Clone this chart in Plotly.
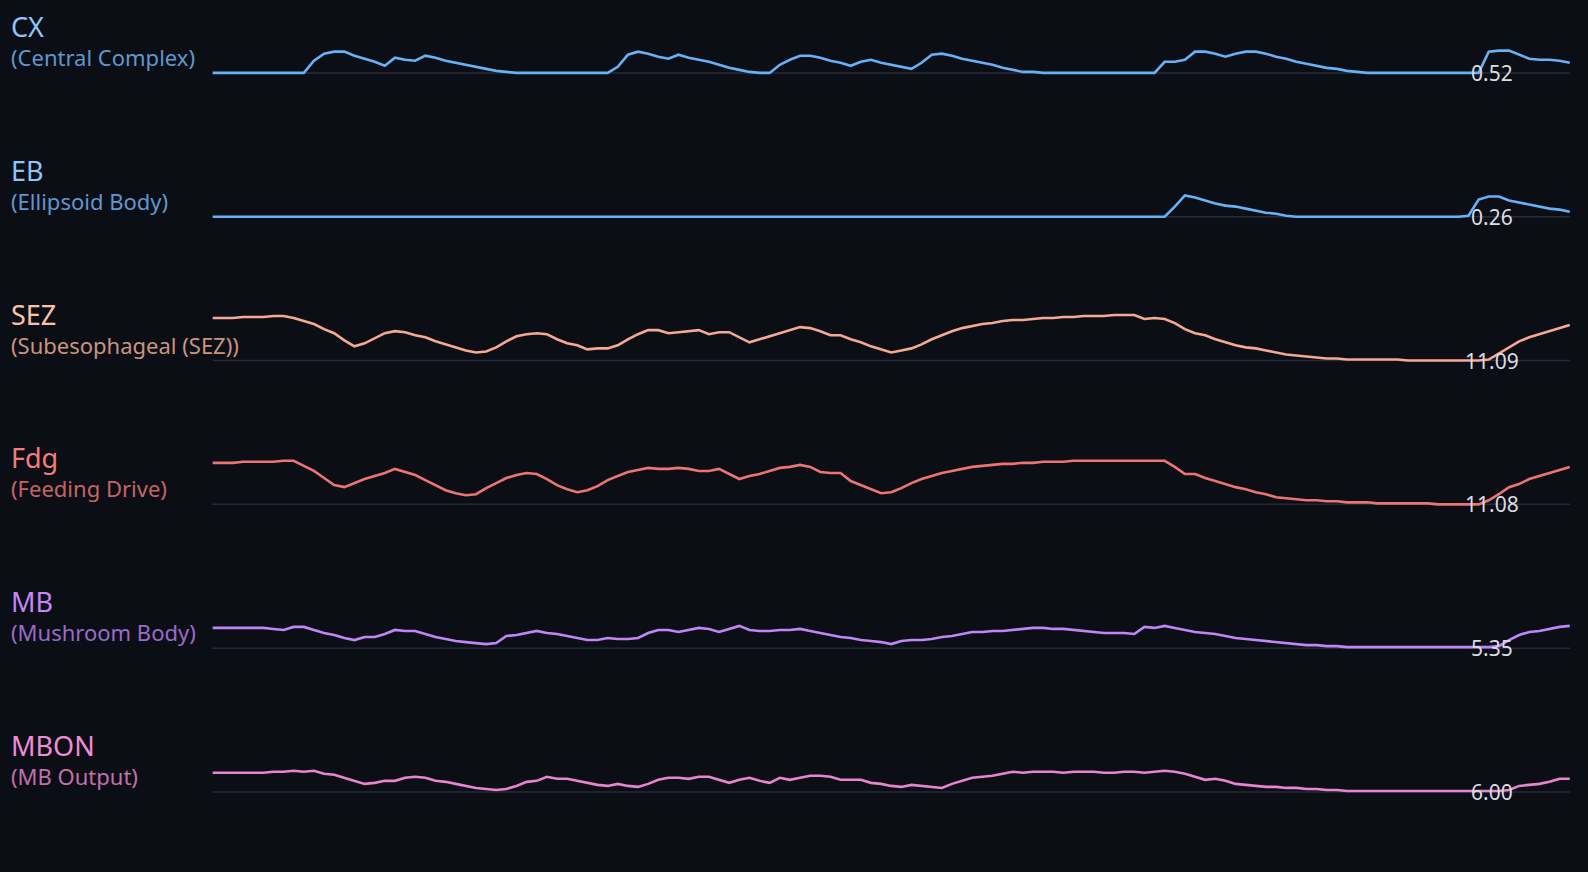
import plotly.graph_objects as go

# ---- data (activity traces, one value per time step) ----
time_steps = list(range(135))

region_names = ["CX", "EB", "SEZ", "Fdg", "MB", "MBON"]
region_descs = ["(Central Complex)", "(Ellipsoid Body)", "(Subesophageal (SEZ))",
                "(Feeding Drive)", "(Mushroom Body)", "(MB Output)"]
value_labels = ["0.52", "0.26", "11.09", "11.08", "5.35", "6.00"]

cx = [0, 0, 0, 0, 0, 0, 0, 0, 0, 0,
      12, 19, 21, 21, 17, 14, 11, 7, 15, 13,
      12, 17, 15, 12, 10, 8, 6, 4, 2, 1,
      0, 0, 0, 0, 0, 0, 0, 0, 0, 0,
      6, 18, 21, 19, 16, 14, 18, 15, 13, 11,
      8, 5, 3, 1, 0, 0, 8, 13, 17, 17,
      15, 12, 10, 7, 11, 13, 10, 8, 6, 4,
      10, 18, 19, 17, 14, 12, 10, 8, 5, 3,
      1, 1, 0, 0, 0, 0, 0, 0, 0, 0,
      0, 0, 0, 0, 11, 11, 13, 21, 21, 19,
      16, 19, 21, 21, 19, 16, 14, 11, 9, 7,
      5, 4, 2, 1, 0, 0, 0, 0, 0, 0,
      0, 0, 0, 0, 0, 0, 21, 22, 22, 18,
      14, 13, 13, 12, 10]

eb = [0, 0, 0, 0, 0, 0, 0, 0, 0, 0,
      0, 0, 0, 0, 0, 0, 0, 0, 0, 0,
      0, 0, 0, 0, 0, 0, 0, 0, 0, 0,
      0, 0, 0, 0, 0, 0, 0, 0, 0, 0,
      0, 0, 0, 0, 0, 0, 0, 0, 0, 0,
      0, 0, 0, 0, 0, 0, 0, 0, 0, 0,
      0, 0, 0, 0, 0, 0, 0, 0, 0, 0,
      0, 0, 0, 0, 0, 0, 0, 0, 0, 0,
      0, 0, 0, 0, 0, 0, 0, 0, 0, 0,
      0, 0, 0, 0, 0, 10, 21, 19, 16, 13,
      11, 10, 8, 6, 4, 3, 1, 0, 0, 0,
      0, 0, 0, 0, 0, 0, 0, 0, 0, 0,
      0, 0, 0, 0, 1, 17, 20, 20, 16, 14,
      12, 10, 8, 7, 5]

sez = [42, 42, 42, 43, 43, 43, 44, 44, 42, 39,
       36, 31, 27, 20, 14, 17, 22, 27, 29, 28,
       25, 23, 19, 16, 13, 10, 8, 9, 13, 19,
       24, 26, 27, 26, 21, 17, 15, 11, 12, 12,
       15, 21, 26, 30, 30, 27, 28, 29, 30, 26,
       28, 28, 23, 18, 21, 24, 27, 30, 33, 32,
       29, 25, 25, 21, 18, 14, 11, 8, 10, 12,
       16, 21, 25, 29, 32, 34, 36, 37, 39, 40,
       40, 41, 42, 42, 43, 43, 44, 44, 44, 45,
       45, 45, 41, 42, 41, 37, 31, 27, 25, 21,
       18, 15, 13, 12, 10, 8, 6, 5, 4, 3,
       2, 2, 1, 1, 1, 1, 1, 1, 0, 0,
       0, 0, 0, 0, 0, 0, 1, 7, 13, 19,
       23, 26, 29, 32, 35]

fdg = [41, 41, 41, 42, 42, 42, 42, 43, 43, 38,
       33, 26, 19, 17, 21, 25, 28, 31, 35, 32,
       29, 24, 19, 14, 11, 9, 10, 16, 21, 26,
       29, 31, 30, 25, 19, 15, 12, 14, 18, 24,
       28, 32, 34, 36, 35, 35, 36, 35, 33, 33,
       35, 30, 25, 28, 30, 33, 36, 37, 39, 37,
       32, 31, 31, 23, 19, 15, 11, 12, 16, 21,
       25, 28, 31, 33, 35, 37, 38, 39, 40, 40,
       41, 41, 42, 42, 42, 43, 43, 43, 43, 43,
       43, 43, 43, 43, 43, 37, 30, 30, 26, 23,
       20, 17, 15, 12, 10, 7, 6, 5, 4, 4,
       3, 3, 2, 2, 2, 1, 1, 1, 1, 1,
       1, 0, 0, 0, 0, 0, 4, 10, 17, 20,
       25, 28, 31, 34, 37]

mb = [20, 20, 20, 20, 20, 20, 19, 18, 21, 21,
      18, 15, 13, 10, 8, 11, 11, 14, 18, 17,
      17, 14, 11, 9, 7, 6, 5, 4, 5, 12,
      13, 15, 17, 15, 14, 12, 10, 8, 8, 10,
      9, 9, 10, 15, 18, 18, 16, 18, 20, 19,
      16, 19, 22, 18, 17, 17, 18, 18, 19, 17,
      15, 13, 11, 10, 8, 7, 6, 4, 7, 8,
      8, 9, 11, 12, 14, 16, 16, 17, 17, 18,
      19, 20, 20, 19, 19, 18, 17, 16, 15, 15,
      15, 14, 21, 20, 22, 20, 18, 16, 15, 14,
      12, 10, 9, 8, 7, 6, 5, 4, 3, 3,
      2, 2, 1, 1, 1, 1, 1, 1, 1, 1,
      1, 1, 1, 1, 1, 1, 1, 2, 8, 13,
      16, 17, 19, 21, 22]

mbon = [19, 19, 19, 19, 19, 19, 20, 20, 21, 20,
        21, 18, 17, 14, 11, 8, 9, 11, 11, 14,
        15, 14, 11, 10, 8, 6, 4, 3, 2, 3,
        6, 10, 11, 15, 13, 13, 11, 9, 7, 6,
        8, 6, 5, 8, 12, 14, 14, 13, 15, 15,
        12, 9, 12, 14, 11, 9, 14, 12, 14, 16,
        16, 15, 12, 12, 12, 9, 8, 6, 5, 7,
        6, 5, 4, 8, 11, 14, 15, 16, 18, 20,
        19, 20, 20, 20, 19, 20, 20, 20, 19, 19,
        20, 20, 19, 20, 21, 20, 18, 15, 12, 13,
        11, 8, 7, 6, 5, 5, 4, 4, 3, 3,
        2, 2, 1, 1, 1, 1, 1, 1, 1, 1,
        1, 1, 1, 1, 1, 1, 1, 1, 2, 6,
        7, 8, 10, 13, 13]

series = [cx, eb, sez, fdg, mb, mbon]

# ---- styles ----
line_colors = ["#66b1f7", "#66b1f7", "#f7a892", "#ee7474", "#c085f7", "#e884d1"]
name_colors = ["#8ec5fb", "#8ec5fb", "#fcc2a8", "#f47c7c", "#c486fa", "#f08cd6"]
desc_colors = ["#5f97cf", "#5f97cf", "#c99580", "#c46565", "#9a6bc9", "#c070ab"]
bg = "#0c0e15"
W, H = 1588, 872
S = 1588 / 1568          # layout was measured on a 1568-px wide view
row_gap = 142 * S
first_base = 72 * S
pad_lo, pad_hi = 5, 55   # axis units below / above baseline (1 unit = 1 measured px)

fig = go.Figure()
shapes = []
annotations = []
for k, (vals, nm) in enumerate(zip(series, region_names)):
    base = first_base + row_gap * k
    ax = "" if k == 0 else str(k + 1)
    yname = "yaxis" + ax
    fig.add_trace(go.Scatter(
        x=time_steps, y=vals, mode="lines", name=nm,
        line=dict(color=line_colors[k], width=2.6),
        xaxis="x", yaxis="y" + ax, showlegend=False, hoverinfo="skip"))
    fig.layout[yname] = dict(
        domain=[1 - (base + pad_lo * S) / H, 1 - (base - pad_hi * S) / H],
        range=[-pad_lo, pad_hi], visible=False, fixedrange=True)
    shapes.append(dict(type="line", xref="x", yref="y" + ax,
                       x0=time_steps[0], x1=time_steps[-1], y0=0, y1=0,
                       line=dict(color="#262b38", width=1.5), layer="below"))
    label = ("<span style='font-size:27px;color:%s'>%s</span><br>%s"
             % (name_colors[k], nm, region_descs[k]))
    annotations.append(dict(text=label, xref="paper", yref="paper", align="left",
                            x=9 * S / W, y=1 - (base - 32.5 * S) / H,
                            xanchor="left", yanchor="middle", showarrow=False,
                            font=dict(size=22, color=desc_colors[k])))
    annotations.append(dict(text=value_labels[k], xref="paper", yref="paper",
                            x=1473 * S / W, y=1 - base / H, xanchor="center", yanchor="middle",
                            showarrow=False, font=dict(size=21, color="#d9dde4")))

fig.update_layout(
    width=W, height=H, margin=dict(l=0, r=0, t=0, b=0),
    paper_bgcolor=bg, plot_bgcolor=bg,
    font=dict(family="Noto Sans, Open Sans, sans-serif"),
    xaxis=dict(domain=[205 * S / W, 1555 * S / W], range=[-0.5, 134.5],
               visible=False, fixedrange=True),
    shapes=shapes, annotations=annotations,
)

fig.write_html("out.html", config={"displayModeBar": False},
               post_script="document.body.style.margin='0';document.body.style.background='%s';" % bg)
